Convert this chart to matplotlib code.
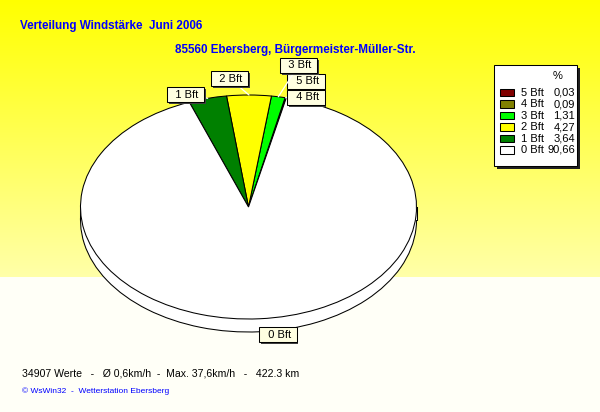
import numpy as np
import matplotlib
matplotlib.use("Agg")
import matplotlib.pyplot as plt
from matplotlib import patheffects as pe
from matplotlib.patches import Rectangle

# ---------------- data ----------------
labels = ["5 Bft", "4 Bft", "3 Bft", "2 Bft", "1 Bft", "0 Bft"]
values = [0.03, 0.09, 1.31, 4.27, 3.64, 90.66]
value_text = ["0,03", "0,09", "1,31", "4,27", "3,64", "90,66"]
colors = ["#800000", "#808000", "#00FF00", "#FFFF00", "#008000", "#FFFFFF"]
title = "Verteilung Windstärke  Juni 2006"
subtitle = "85560 Ebersberg, Bürgermeister-Müller-Str."
stats_line = "34907 Werte   -   Ø 0,6km/h  -  Max. 37,6km/h   -   422.3 km"
footer = "© WsWin32  -  Wetterstation Ebersberg"

W, H = 600, 412
fig = plt.figure(figsize=(W / 100, H / 100), dpi=100)

# ---------------- background ----------------
bg = fig.add_axes([0, 0, 1, 1])
bg.set_axis_off()
grad = np.ones((H, 1, 3))
split = 277
grad[:split, 0, 2] = np.linspace(0.0, 0.66, split)
grad[split:, 0, 2] = 0.97
bg.imshow(grad, aspect="auto", extent=(0, W, H, 0), interpolation="nearest")
bg.set_xlim(0, W)
bg.set_ylim(H, 0)

# ---------------- pie ----------------
cx, cy, rx, ry = 248.5, 207.0, 168.0, 112.0   # ellipse geometry in pixels
depth = 13.0 / ry
L, R, T, B = 40, 460, 50, 360
ax = fig.add_axes([L / W, 1 - B / H, (R - L) / W, (B - T) / H])
ax.set_axis_off()
startangle = 77
wp = dict(edgecolor="black", linewidth=0.75)

# lower (side) disc
ax.pie(values, colors=colors, startangle=startangle, center=(0, -depth),
       wedgeprops=wp, normalize=True)
ax.add_patch(Rectangle((-1, -depth), 2, depth, facecolor="white",
                       edgecolor="none", zorder=5))
ax.plot([-1, -1], [0, -depth], color="black", lw=0.75, zorder=6)
ax.plot([1, 1], [0, -depth], color="black", lw=0.75, zorder=6)
# upper disc
wedges, _ = ax.pie(values, colors=colors, startangle=startangle,
                   wedgeprops=wp, normalize=True)
for w in wedges:
    w.set_zorder(10)
ax.set_aspect("auto")
ax.set_xlim((L - cx) / rx, (R - cx) / rx)
ax.set_ylim((cy - B) / ry, (cy - T) / ry)

# labels (box centres in image pixels)
label_pos = {"1 Bft": (185.5, 94.5), "2 Bft": (229.5, 78.5),
             "3 Bft": (298.5, 65.5), "5 Bft": (306, 81.5),
             "4 Bft": (306, 97.5), "0 Bft": (278, 334.5)}
for w, lab in zip(wedges, labels):
    mid = np.deg2rad((w.theta1 + w.theta2) / 2)
    px, py = np.cos(mid), np.sin(mid)
    if py < 0:
        py -= depth
    tx, ty = label_pos[lab]
    t = ax.annotate("  " + lab + " ", xy=(px, py), xytext=(tx, H - ty),
                    textcoords="figure pixels", ha="center", va="center",
                    fontsize=8, family=["Liberation Sans", "DejaVu Sans"],
                    bbox=dict(boxstyle="square,pad=0.22", fc="#FFFFE1",
                              ec="black", lw=0.75),
                    arrowprops=dict(arrowstyle="-", color="white", lw=0.9,
                                    shrinkA=0, shrinkB=0),
                    zorder=20, annotation_clip=False)
    t.get_bbox_patch().set_path_effects(
        [pe.SimplePatchShadow(offset=(1.2, -1.2), shadow_rgbFace="0.25",
                              alpha=1), pe.Normal()])

# ---------------- overlay for texts and legend ----------------
ov = fig.add_axes([0, 0, 1, 1], zorder=30)
ov.set_axis_off()
ov.set_xlim(0, W)
ov.set_ylim(H, 0)
ov.patch.set_alpha(0)

tfont = ["Liberation Sans", "DejaVu Sans"]
ov.text(20, 26, title, color="#0000FF", fontsize=8.4, fontweight="bold",
        family=tfont, va="center", ha="left")
ov.text(175, 49.5, subtitle, color="#0000FF", fontsize=8.4, fontweight="bold",
        family=tfont, va="center", ha="left")
ov.text(22, 374, stats_line, color="black", fontsize=7.6,
        family=tfont, va="center", ha="left")
ov.text(22, 391.5, footer, color="#0000FF", fontsize=6,
        family=tfont, va="center", ha="left")

# legend
lx0, ly0, lx1, ly1 = 494, 65, 577, 166
ov.add_patch(Rectangle((lx0 + 3, ly0 + 3), lx1 - lx0, ly1 - ly0,
                       facecolor="#202020", edgecolor="none"))
ov.add_patch(Rectangle((lx0, ly0), lx1 - lx0, ly1 - ly0, facecolor="white",
                       edgecolor="black", lw=0.75))
ov.text(558, 76, "%", fontsize=8, family=tfont, ha="center", va="center")
row_y0, row_dy = 92, 11.5
for i, (lab, col, vt) in enumerate(zip(labels, colors, value_text)):
    y = row_y0 + i * row_dy
    ov.add_patch(Rectangle((500, y - 3.5), 14, 7.5, facecolor=col,
                           edgecolor="black", lw=0.75))
    ov.text(521, y + 0.5, lab, fontsize=8, family=tfont, ha="left", va="center")
    ov.text(575, y + 0.5, vt, fontsize=8, family=tfont, ha="right", va="center")

fig.savefig("out.png", dpi=100)
